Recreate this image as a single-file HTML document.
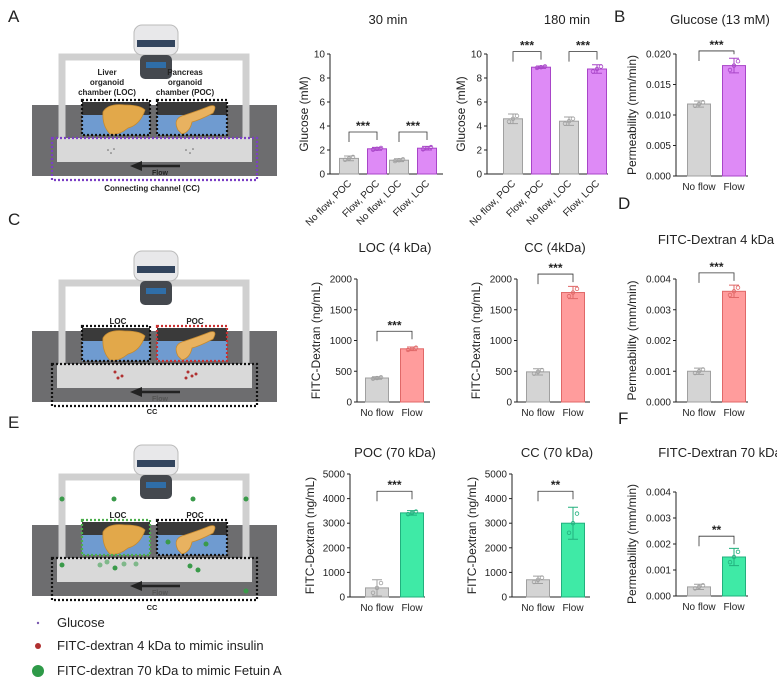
<!DOCTYPE html>
<html><head><meta charset="utf-8">
<style>
html,body{margin:0;padding:0;background:#fff;}
svg{display:block;font-family:"Liberation Sans",Arial,sans-serif;}
</style></head>
<body>
<svg id="fig" width="777" height="690" viewBox="0 0 777 690" xmlns="http://www.w3.org/2000/svg">
<g id="diagrams"></g>
<g id="charts"></g>
</svg>
<script>
// ---- chart data ----
const catsA = ["No flow, POC","Flow, POC","No flow, LOC","Flow, LOC"];
const cats2 = ["No flow","Flow"];
const vals30 = [1.3, 2.1, 1.15, 2.15];
const errs30 = [0.2, 0.12, 0.12, 0.15];
const vals180 = [4.6, 8.9, 4.4, 8.75];
const errs180 = [0.4, 0.1, 0.35, 0.35];
const valsB = [0.0118, 0.0181];
const errsB = [0.0005, 0.0012];
const valsLOC = [390, 865];
const errsLOC = [20, 30];
const valsCC4 = [490, 1780];
const errsCC4 = [50, 100];
const valsD = [0.00100, 0.00360];
const errsD = [0.0001, 0.0002];
const valsPOC70 = [370, 3420];
const errsPOC70 = [330, 90];
const valsCC70 = [700, 3000];
const errsCC70 = [150, 650];
const valsF = [0.00035, 0.00150];
const errsF = [0.0001, 0.00033];
const ticksA = [0,2,4,6,8,10];
const ticksB = [0,0.005,0.010,0.015,0.020];
const ticks2000 = [0,500,1000,1500,2000];
const ticks5000 = [0,1000,2000,3000,4000,5000];
const ticks004 = [0,0.001,0.002,0.003,0.004];

const NS="http://www.w3.org/2000/svg";
function mk(parent,tag,attrs,text){const e=document.createElementNS(NS,tag);for(const k in attrs)e.setAttribute(k,attrs[k]);if(text!==undefined)e.textContent=text;parent.appendChild(e);return e;}

const GREY={fill:"#d4d4d4",stroke:"#a0a0a0"};
const PUR={fill:"#de8af6",stroke:"#a845c8"};
const RED={fill:"#ff9c9c",stroke:"#e06868"};
const GRN={fill:"#3feaa6",stroke:"#22b07e"};

function chart(c){
  const root=document.getElementById('charts');
  const g=mk(root,'g',{});
  
  
  const max=c.ticks[c.ticks.length-1];
  const ys=v=>c.y0-(v/max)*(c.y0-c.yTop);
  const xs=i=>c.x0+c.off+i*c.step+(c.gap&&i>=2?c.gap:0);
  const ax=mk(g,'path',{d:`M${c.ax},${c.yTop}V${c.y0}H${c.axEnd}`,stroke:"#222",fill:"none","stroke-width":1});
  
  
  c.ticks.forEach(t=>{
    const y=ys(t);
    mk(g,'line',{x1:c.ax-3,x2:c.ax,y1:y,y2:y,stroke:"#222"});
    const tl=mk(g,'text',{x:c.ax-5,y:y+3.5,"font-size":10,"text-anchor":"end",fill:"#222"},c.fmt(t));
    
    
  });
  const yc=(c.y0+c.yTop)/2;
  const yt=mk(g,'text',{x:c.ytx,y:yc,"font-size":12,"text-anchor":"middle",fill:"#222",transform:`rotate(-90 ${c.ytx} ${yc})`},c.ytitle);
  
  
  const tt=mk(g,'text',{x:c.tx,y:c.ty,"font-size":13,"text-anchor":"middle",fill:"#222"},c.title);
  
  
  c.vals.forEach((v,i)=>{
    const col=c.colors[i];const x=xs(i);const w=c.bw;
    const b=mk(g,'rect',{x:x-w/2,y:ys(v),width:w,height:c.y0-ys(v),fill:col.fill,stroke:col.stroke,"stroke-width":1});
    
    
    const e=c.errs[i];
    mk(g,'path',{d:`M${x},${ys(v-e)}V${ys(v+e)}M${x-5},${ys(v+e)}H${x+5}M${x-5},${ys(v-e)}H${x+5}`,stroke:col.stroke,"stroke-width":1,fill:"none"});
    [-4,0,4].forEach((d,k)=>mk(g,'circle',{cx:x+d,cy:ys(v+e*(k-1)*0.6),r:1.8,fill:"none",stroke:col.stroke,"stroke-width":0.8}));
    let lab;
    if(c.rot){
      lab=mk(g,'text',{x:x+3,y:c.y0+10,"font-size":10,"text-anchor":"end",fill:"#222",transform:`rotate(-45 ${x+3} ${c.y0+10})`},c.cats[i]);
    } else {
      lab=mk(g,'text',{x:x,y:c.y0+14,"font-size":10,"text-anchor":"middle",fill:"#222"},c.cats[i]);
    }
    
    
  });
  c.sig.forEach(s=>{
    const [i,j,label,hv]=s;const y=ys(hv);
    const x1=xs(i),x2=xs(j);
    const b1=Math.min(ys(c.vals[i]+c.errs[i])-4,y+10),b2=Math.min(ys(c.vals[j]+c.errs[j])-4,y+8);
    const br=mk(g,'path',{d:`M${x1},${b1}V${y}H${x2}V${b2}`,stroke:"#333",fill:"none","stroke-width":0.8});
    
    
    const st=mk(g,'text',{x:(x1+x2)/2,y:y-2,"font-size":12,"font-weight":"bold","text-anchor":"middle",fill:"#222"},label);
    
    
  });
}
const f1=t=>String(t);
const f3=t=>t.toFixed(3);
chart({name:"chart-30min",x0:330,off:19,step:28,gap:-6,ax:330,axEnd:443,y0:174,yTop:54,ticks:ticksA,fmt:f1,ytitle:"Glucose (mM)",ytx:308,title:"30 min",tx:388,ty:24,cats:catsA,vals:vals30,errs:errs30,colors:[GREY,PUR,GREY,PUR],bw:19,rot:true,sig:[[0,1,"***",3.5],[2,3,"***",3.5]]});
chart({name:"chart-180min",x0:487,off:26,step:28,gap:0,ax:487,axEnd:608,y0:174,yTop:54,ticks:ticksA,fmt:f1,ytitle:"Glucose (mM)",ytx:465,title:"180 min",tx:567,ty:24,cats:catsA,vals:vals180,errs:errs180,colors:[GREY,PUR,GREY,PUR],bw:19,rot:true,sig:[[0,1,"***",10.2],[2,3,"***",10.2]]});
chart({name:"chart-b-glucose-permeability",x0:676,off:23,step:35,ax:676,axEnd:748,y0:176,yTop:54,ticks:ticksB,fmt:f3,ytitle:"Permeability (mm/min)",ytx:636,title:"Glucose (13 mM)",tx:720,ty:24,cats:cats2,vals:valsB,errs:errsB,colors:[GREY,PUR],bw:23,sig:[[0,1,"***",0.0205]]});
chart({name:"chart-loc-4kda",x0:357,off:20,step:35,ax:357,axEnd:430,y0:402,yTop:279,ticks:ticks2000,fmt:f1,ytitle:"FITC-Dextran (ng/mL)",ytx:320,title:"LOC (4 kDa)",tx:395,ty:252,cats:cats2,vals:valsLOC,errs:errsLOC,colors:[GREY,RED],bw:23,sig:[[0,1,"***",1150]]});
chart({name:"chart-cc-4kda",x0:517,off:21,step:35,ax:517,axEnd:590,y0:402,yTop:279,ticks:ticks2000,fmt:f1,ytitle:"FITC-Dextran (ng/mL)",ytx:480,title:"CC (4kDa)",tx:555,ty:252,cats:cats2,vals:valsCC4,errs:errsCC4,colors:[GREY,RED],bw:23,sig:[[0,1,"***",2080]]});
chart({name:"chart-d-permeability-4kda",x0:676,off:23,step:35,ax:676,axEnd:748,y0:402,yTop:279,ticks:ticks004,fmt:f3,ytitle:"Permeability (mm/min)",ytx:636,title:"FITC-Dextran 4 kDa",tx:716,ty:244,cats:cats2,vals:valsD,errs:errsD,colors:[GREY,RED],bw:23,sig:[[0,1,"***",0.0042]]});
chart({name:"chart-poc-70kda",x0:350,off:27,step:35,ax:350,axEnd:425,y0:597,yTop:474,ticks:ticks5000,fmt:f1,ytitle:"FITC-Dextran (ng/mL)",ytx:314,title:"POC (70 kDa)",tx:395,ty:457,cats:cats2,vals:valsPOC70,errs:errsPOC70,colors:[GREY,GRN],bw:23,sig:[[0,1,"***",4300]]});
chart({name:"chart-cc-70kda",x0:512,off:26,step:35,ax:512,axEnd:590,y0:597,yTop:474,ticks:ticks5000,fmt:f1,ytitle:"FITC-Dextran (ng/mL)",ytx:476,title:"CC (70 kDa)",tx:557,ty:457,cats:cats2,vals:valsCC70,errs:errsCC70,colors:[GREY,GRN],bw:23,sig:[[0,1,"**",4300]]});
chart({name:"chart-f-permeability-70kda",x0:676,off:23,step:35,ax:676,axEnd:748,y0:596,yTop:492,ticks:ticks004,fmt:f3,ytitle:"Permeability (mm/min)",ytx:636,title:"FITC-Dextran 70 kDa",tx:720,ty:457,cats:cats2,vals:valsF,errs:errsF,colors:[GREY,GRN],bw:23,sig:[[0,1,"**",0.0023]]});

const charts=document.getElementById('charts');
[["A",8,22],["B",614,22],["C",8,225],["D",618,209],["E",8,428],["F",618,424]].forEach(p=>{
  const t=mk(charts,'text',{x:p[1],y:p[2],"font-size":17,fill:"#222"},p[0]);
  
  
});

function diagram(dy,opts){
  const root=document.getElementById('diagrams');
  const g=mk(root,'g',{transform:`translate(0 ${dy})`});
  
  
  mk(g,'rect',{x:32,y:105,width:245,height:71,fill:"#6d6d6f"});
  mk(g,'path',{d:"M62,140V57H246V140",stroke:"#d0d0d0","stroke-width":7,fill:"none"});
  mk(g,'rect',{x:57,y:138,width:195,height:24,fill:"#d9d9d9"});
  [[82,150],[157,227]].forEach((c,k)=>{
    mk(g,'rect',{x:c[0],y:102,width:c[1]-c[0],height:13,fill:"#3a3a3a"});
    mk(g,'rect',{x:c[0],y:115,width:c[1]-c[0],height:20,fill:"#6f9bd0"});
  });
  mk(g,'path',{d:"M103,112 Q108,103 125,105 Q140,105 145,110 Q140,125 128,128 Q118,136 110,134 Q102,126 103,112Z",fill:"#e2a84a",stroke:"#c58a30","stroke-width":0.8});
  mk(g,'path',{d:"M178,130 Q172,118 185,115 Q200,110 210,106 Q218,104 213,113 Q200,120 192,122 Q190,132 182,134Z",fill:"#e8b260",stroke:"#c58a30","stroke-width":0.8});
  mk(g,'rect',{x:134,y:25,width:44,height:30,rx:8,fill:"#e8e8ea",stroke:"#bbb"});
  mk(g,'rect',{x:137,y:40,width:38,height:7,fill:"#33455e"});
  mk(g,'rect',{x:140,y:55,width:32,height:24,rx:5,fill:"#44484e"});
  mk(g,'rect',{x:146,y:62,width:20,height:6,fill:"#2f6ea8"});
  mk(g,'rect',{x:82,y:100,width:68,height:35,fill:"none",stroke:opts.loc,"stroke-width":2.2,"stroke-dasharray":"2 2"});
  mk(g,'rect',{x:157,y:100,width:70,height:35,fill:"none",stroke:opts.poc,"stroke-width":2.2,"stroke-dasharray":"2 2"});
  mk(g,'rect',{x:52,y:138,width:205,height:42,fill:"none",stroke:opts.cc,"stroke-width":2.2,"stroke-dasharray":"2 2"});
  mk(g,'path',{d:"M180,166H140",stroke:"#222","stroke-width":2.5});
  mk(g,'path',{d:"M130,166L142,161V171Z",fill:"#222"});
  const fl=mk(g,'text',{x:160,y:175,"font-size":7,"font-weight":"bold","text-anchor":"middle",fill:opts.flowCol},"Flow");
  
  
  opts.dots.forEach(d=>mk(g,'circle',{cx:d[0],cy:d[1],r:d[2],fill:d[3]}));
  opts.labels.forEach(l=>{
    const t=mk(g,'text',{x:l[0],y:l[1],"font-size":l[3]||8,"font-weight":"bold","text-anchor":"middle",fill:"#222"},l[2]);
    
    
  });
}
diagram(0,{name:"diagram-a",loc:"#111",poc:"#111",cc:"#7b3fc4",flowCol:"#222",
  dots:[[108,150,0.8,"#666"],[111,153,0.8,"#666"],[114,149,0.8,"#666"],[186,150,0.8,"#666"],[190,153,0.8,"#666"],[193,149,0.8,"#666"]],
  labels:[[107,75,"Liver"],[107,85,"organoid"],[107,95,"chamber (LOC)"],[185,75,"Pancreas"],[185,85,"organoid"],[185,95,"chamber (POC)"],[152,191,"Connecting channel (CC)"]]});
diagram(226,{name:"diagram-c",loc:"#111",poc:"#c83030",cc:"#111",flowCol:"#555",
  dots:[[115,146,1.5,"#b03030"],[118,152,1.5,"#b03030"],[122,150,1.5,"#b03030"],[188,146,1.5,"#b03030"],[192,150,1.5,"#b03030"],[196,148,1.5,"#b03030"],[186,152,1.5,"#b03030"]],
  labels:[[118,98,"LOC"],[195,98,"POC"],[152,188,"CC",7.5]]});
diagram(420,{name:"diagram-e",loc:"#4cae4c",poc:"#111",cc:"#111",flowCol:"#555",
  dots:[[62,79,2.5,"#3a9a4a"],[114,79,2.5,"#3a9a4a"],[193,79,2.5,"#3a9a4a"],[246,79,2.5,"#3a9a4a"],[62,145,2.5,"#3a9a4a"],[246,171,2.5,"#3a9a4a"],[100,145,2.5,"#7fb88a"],[107,142,2.5,"#7fb88a"],[115,148,2.5,"#3a9a4a"],[124,144,2.5,"#7fb88a"],[136,144,2.5,"#7fb88a"],[190,146,2.5,"#3a9a4a"],[198,150,2.5,"#3a9a4a"],[168,122,2.5,"#3a9a4a"],[206,124,2.5,"#3a9a4a"]],
  labels:[[118,98,"LOC"],[195,98,"POC"],[152,190,"CC",7.5]]});

const lg=mk(charts,'g',{});


[[627,1.2,"#7a5ab0","Glucose"],[650,3,"#b03030","FITC-dextran 4 kDa to mimic insulin"],[675,6,"#2e9a48","FITC-dextran 70 kDa to mimic Fetuin A"]].forEach(r=>{
  const e=mk(lg,'g',{});
  
  
  mk(e,'circle',{cx:38,cy:r[0]-4,r:r[1],fill:r[2]});
  mk(e,'text',{x:57,y:r[0],"font-size":13,fill:"#222"},r[3]);
});
</script>
</body></html>
